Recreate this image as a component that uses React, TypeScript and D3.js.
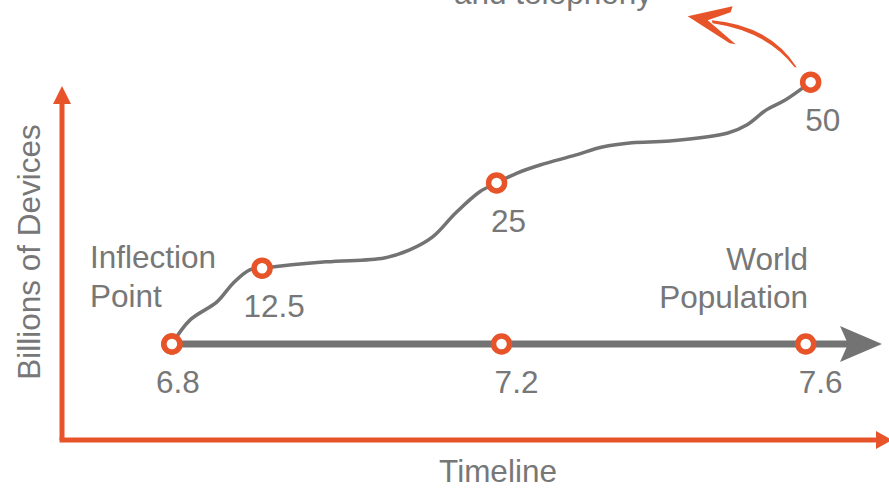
import * as d3 from 'd3'

// timeline position (0-100) and height on the device axis (0-100)
const deviceValues = ['6.8', '12.5', '25', '50']
const deviceTime = [13.4, 24.4, 53.0, 91.3]
const deviceLevel = [26.5, 48.1, 72.4, 101.1]

const populationValues = ['6.8', '7.2', '7.6']
const populationTime = [13.4, 53.6, 90.7]
const populationLevel = 26.5

// hand-drawn growth curve through the device points
const growthCurve: [number, number][] = [
  [13.4, 26.5], [15.6, 33.3], [18.9, 38.5], [20.9, 43.9], [22.9, 47.6], [24.4, 48.1],
  [32.2, 49.9], [39.3, 51.0], [42.4, 53.3], [45.2, 57.0], [48.0, 63.8], [50.9, 69.8],
  [53.0, 72.4], [55.5, 75.2], [58.3, 77.5], [62.6, 80.3], [65.9, 82.6], [69.5, 83.8],
  [74.1, 84.3], [81.2, 86.6], [83.5, 88.9], [85.9, 93.2], [88.2, 96.0], [91.3, 101.1]
]

const W = 889
const H = 488
const orange = '#E8542A'
const lineGray = '#737373'
const textGray = '#777777'
const font = '"Liberation Sans", Arial, sans-serif'

export default function App() {
  const x = d3.scaleLinear().domain([0, 100]).range([62, 882])
  const y = d3.scaleLinear().domain([0, 100]).range([437, 86])

  const line = d3.line<[number, number]>()
    .x(d => x(d[0]))
    .y(d => y(d[1]))
    .curve(d3.curveCatmullRom.alpha(0.5))

  const popY = y(populationLevel)
  const lastX = x(deviceTime[3])
  const lastY = y(deviceLevel[3])

  // small curved arrow leaving the last point (decoration)
  const ax = lastX - 14
  const ay = lastY - 15
  const swoosh = `M${ax},${ay} Q${ax - 27},${ay - 42} ${ax - 85},${ay - 47} L${ax - 84},${ay - 44} Q${ax - 30},${ay - 36} ${ax - 2},${ay} Z`
  const tipX = ax - 109
  const tipY = ay - 51
  const chevron = `M${tipX},${tipY} L${tipX + 45},${tipY - 10} L${tipX + 43},${tipY - 4} L${tipX + 20},${tipY + 4} L${tipX + 48},${tipY + 28} L${tipX + 42},${tipY + 27} Z`

  const textStyle = { fontFamily: font, fontSize: 31.5, fill: textGray }

  return (
    <svg width={W} height={H} style={{ position: 'absolute', left: 0, top: 0 }}>
      <rect width={W} height={H} fill="#fff" />

      {/* orange axes */}
      <line x1={x(0)} y1={y(0) + 3} x2={x(0)} y2={101} stroke={orange} strokeWidth={5} />
      <path d={`M${x(0)},${86} L${x(0) + 9},${104} L${x(0) - 9},${104} Z`} fill={orange} />
      <line x1={x(0) - 2.5} y1={y(0) + 3} x2={876} y2={y(0) + 3} stroke={orange} strokeWidth={5} />
      <path d={`M${892},${y(0) + 3} L${876},${y(0) - 6} L${876},${y(0) + 12} Z`} fill={orange} />

      {/* population line with arrow */}
      <line x1={x(populationTime[0])} y1={popY} x2={850} y2={popY} stroke={lineGray} strokeWidth={7} />
      <path d={`M${x(100)},${popY} L${840},${popY - 18} L${848},${popY} L${840},${popY + 18} Z`} fill={lineGray} />

      {/* device growth curve */}
      <path d={line(growthCurve) || ''} fill="none" stroke={lineGray} strokeWidth={3.5} />

      {/* decoration arrow */}
      <path d={swoosh} fill={orange} />
      <path d={chevron} fill={orange} />

      {/* markers */}
      {populationTime.map((t, i) => (
        <circle key={'p' + i} cx={x(t)} cy={popY} r={8} fill="#fff" stroke={orange} strokeWidth={5.5} />
      ))}
      {deviceTime.map((t, i) => (
        <circle key={'d' + i} cx={x(t)} cy={y(deviceLevel[i])} r={8} fill="#fff" stroke={orange} strokeWidth={5.5} />
      ))}

      {/* value labels */}
      {deviceValues.slice(1).map((v, i) => (
        <text key={'dl' + i} x={x(deviceTime[i + 1]) + 12} y={y(deviceLevel[i + 1]) + 49} textAnchor="middle" style={textStyle}>{v}</text>
      ))}
      {populationValues.map((v, i) => (
        <text key={'pl' + i} x={x(populationTime[i]) + (i === 0 ? 6 : 15)} y={popY + 49} textAnchor="middle" style={textStyle}>{v}</text>
      ))}

      {/* annotations */}
      <text x={90} y={268} style={textStyle}>Inflection</text>
      <text x={90} y={307} style={textStyle}>Point</text>
      <text x={808} y={270} textAnchor="end" style={textStyle}>World</text>
      <text x={808} y={308} textAnchor="end" style={textStyle}>Population</text>
      <text x={553} y={4} textAnchor="middle" style={textStyle}>and telephony</text>
      <text x={498} y={482} textAnchor="middle" style={textStyle}>Timeline</text>
      <text transform="translate(40,252) rotate(-90)" textAnchor="middle" style={textStyle}>Billions of Devices</text>
    </svg>
  )
}
